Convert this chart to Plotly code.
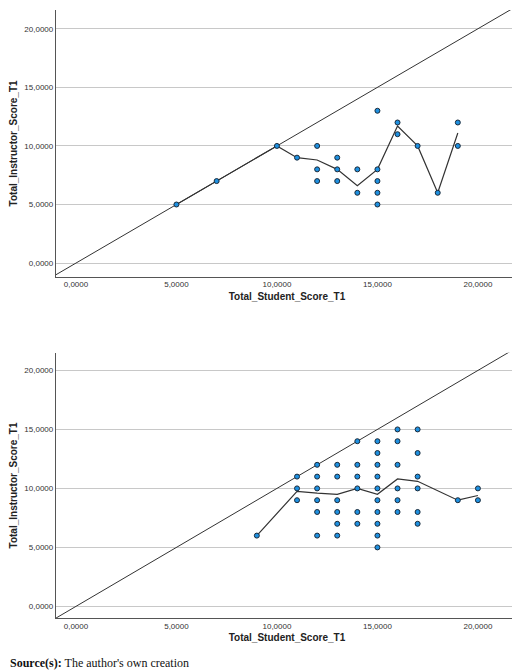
import plotly.graph_objects as go

# Top panel
t_x = [5,7,10,11,12,12,12,13,13,13,14,14,15,15,15,15,15,16,16,17,18,19,19]
t_y = [5,7,10,9,10,8,7,9,8,7,8,6,13,8,7,6,5,12,11,10,6,12,10]
t_lx = [5,7,10,11,12,13,14,15,16,17,18,19]
t_ly = [5,7,10,9,8.8,8,6.6,8,11.7,10,6,11.1]
# Bottom panel
b_x = [9,11,11,11,12,12,12,12,12,12,13,13,13,13,13,13,14,14,14,14,14,14,
       15,15,15,15,15,15,15,15,15,15,16,16,16,16,16,16,17,17,17,17,17,17,19,20,20]
b_y = [6,11,10,9,12,11,10,9,8,6,12,11,9,8,7,6,14,12,11,10,8,7,
       14,13,12,11,10,9,8,7,6,5,15,14,12,10,9,8,15,13,11,10,8,7,9,10,9]
b_lx = [9,11,12,13,14,15,16,17,19,20]
b_ly = [6,9.75,9.6,9.5,10,9.5,10.8,10.6,9,9.4]
ticks = [0,5,10,15,20]
ticklabels = ["0,0000","5,0000","10,0000","15,0000","20,0000"]

fig = go.Figure()
mk = dict(size=5, color="#1e90e0", line=dict(color="#1a2a3a", width=1))
for xs, ys, lx, ly, ax in [(t_x, t_y, t_lx, t_ly, ""), (b_x, b_y, b_lx, b_ly, "2")]:
    fig.add_trace(go.Scatter(x=[-5, 30], y=[-5, 30], mode="lines", line=dict(color="#333", width=1),
                             xaxis="x"+ax, yaxis="y"+ax, hoverinfo="skip"))
    fig.add_trace(go.Scatter(x=lx, y=ly, mode="lines", line=dict(color="#333", width=1.2),
                             xaxis="x"+ax, yaxis="y"+ax))
    fig.add_trace(go.Scatter(x=xs, y=ys, mode="markers", marker=mk, xaxis="x"+ax, yaxis="y"+ax))

xa = dict(domain=[0.092, 0.981], range=[-1.0, 22.0], tickvals=ticks, ticktext=ticklabels,
          showgrid=False, zeroline=False, showline=True, linecolor="#555", ticks="",
          tickfont=dict(size=8, color="#333", family="Arial"),
          title=dict(text="<b>Total_Student_Score_T1</b>", font=dict(size=10, family="Arial", color="#222"), standoff=4))
ya = dict(tickvals=ticks, ticktext=ticklabels, showgrid=True, gridcolor="#c8c8c8", zeroline=False,
          showline=True, linecolor="#555", ticks="", tickfont=dict(size=8, color="#333", family="Arial"),
          title=dict(text="<b>Total_Instructor_Score_T1</b>", font=dict(size=10, family="Arial", color="#222"), standoff=6))
fig.update_layout(
    width=520, height=672, margin=dict(l=0, r=0, t=0, b=0), showlegend=False,
    plot_bgcolor="white", paper_bgcolor="white",
    xaxis=dict(xa, anchor="y"),
    yaxis=dict(ya, domain=[0.6, 0.997], range=[-1.17, 21.6], anchor="x"),
    xaxis2=dict(xa, anchor="y2"),
    yaxis2=dict(ya, domain=[0.092, 0.487], range=[-1.0, 21.5], anchor="x2"),
    annotations=[dict(text="<b>Source(s):</b> The author's own creation", x=0.0, y=0.0, xref="paper", yref="paper",
                      xanchor="left", yanchor="bottom", yshift=8, showarrow=False,
                      font=dict(size=12, family="Liberation Serif", color="#111"))],
)
fig.write_html("out.html")
